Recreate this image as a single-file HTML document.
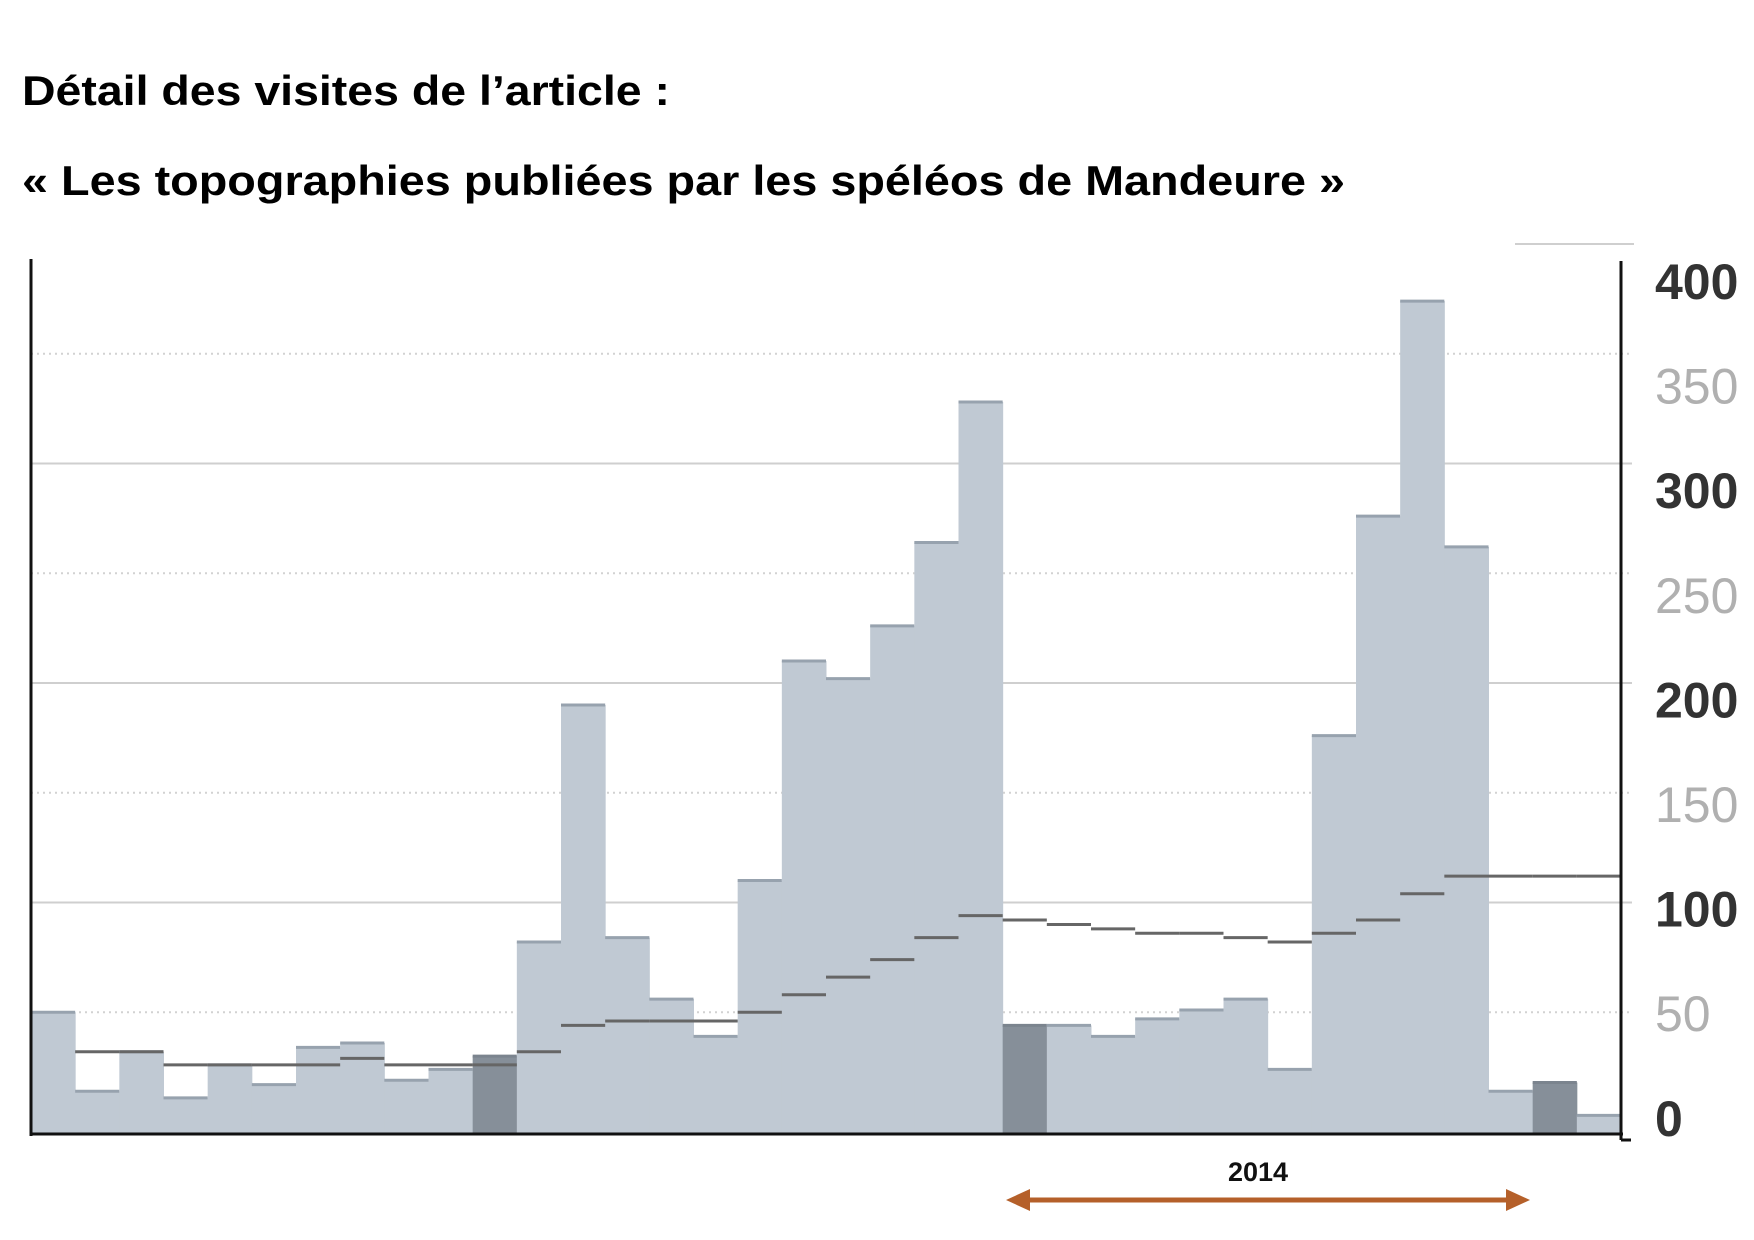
<!DOCTYPE html>
<html><head><meta charset="utf-8"><style>
html,body{margin:0;padding:0;background:#fff;}
svg{display:block;}
</style></head><body>
<svg id="chart" width="1754" height="1240" viewBox="0 0 1754 1240" xmlns="http://www.w3.org/2000/svg" font-family="Liberation Sans, Arial, sans-serif">
<rect width="1754" height="1240" fill="#fff"/>
<text x="22" y="105" font-size="42" font-weight="bold" fill="#000" textLength="648" lengthAdjust="spacingAndGlyphs">Détail des visites de l’article :</text>
<text x="22" y="195" font-size="42" font-weight="bold" fill="#000" textLength="1323" lengthAdjust="spacingAndGlyphs">« Les topographies publiées par les spéléos de Mandeure »</text>
<g id="grid"></g>
<g id="bars"></g>
<g id="avg"></g>
<g id="axes"></g>
<g id="ylabels"></g>
<text x="1258" y="1181" font-size="27" font-weight="bold" fill="#111" text-anchor="middle">2014</text>
<g>
<line x1="1020" y1="1200" x2="1516" y2="1200" stroke="#b5602a" stroke-width="5"/>
<polygon points="1006,1200 1030,1189 1030,1211" fill="#b5602a"/>
<polygon points="1530,1200 1506,1189 1506,1211" fill="#b5602a"/>
</g>
</svg>
<script>
const visits = [50,14,32,11,26,17,34,36,19,24,30,82,190,84,56,39,110,210,202,226,264,328,44,44,39,47,51,56,24,176,276,374,262,14,18,3];
const average = [null,32,32,26,26,26,26,29,26,26,26,32,44,46,46,46,50,58,66,74,84,94,92,90,88,86,86,84,82,86,92,104,112,112,112,112];
const highlighted = [10,22,34];
const tickValues = [400,350,300,250,200,150,100,50,0];
const tickLabels = ["400","350","300","250","200","150","100","50","0"];
const majorTicks = [400,300,200,100,0];

const NS = "http://www.w3.org/2000/svg";
const X0 = 31, X1 = 1621, BASE = 1134;
const bw = (X1 - X0) / visits.length;
function xPos(i){ return X0 + i * bw; }
function yPos(v){ return 1122 - v * 2.195; }
function labelY(v){ return 281 + (400 - v) / 50 * 104.6; }
function mk(tag, attrs, parent){
  const e = document.createElementNS(NS, tag);
  for (const k in attrs) e.setAttribute(k, attrs[k]);
  parent.appendChild(e); return e;
}
const grid = document.getElementById('grid');
tickValues.forEach(v => {
  if (v === 0) return;
  const y = yPos(v);
  let l;
  if (v === 400) l = mk('line', {x1:1515, x2:1634, y1:y, y2:y, stroke:'#cfcfcf', 'stroke-width':2}, grid);
  else if (v % 100 === 0) l = mk('line', {x1:X0, x2:1632, y1:y, y2:y, stroke:'#cfcfcf', 'stroke-width':2}, grid);
  else l = mk('line', {x1:X0, x2:1632, y1:y, y2:y, stroke:'#d2d2d2', 'stroke-width':2, 'stroke-dasharray':'2 4'}, grid);
  
  
});
const bars = document.getElementById('bars');
visits.forEach((v, i) => {
  const dark = highlighted.includes(i);
  const r = mk('rect', {x:xPos(i), y:yPos(v), width:bw+0.5, height:BASE - yPos(v), fill: dark ? '#868f99' : '#c0c9d3'}, bars);
  
  
  const t = mk('line', {x1:xPos(i), x2:xPos(i)+bw, y1:yPos(v), y2:yPos(v), stroke: dark ? '#7b848e' : '#97a2ae', 'stroke-width':3}, bars);
  
  
});
const avg = document.getElementById('avg');
average.forEach((v, i) => {
  if (v === null) return;
  const l = mk('line', {x1:xPos(i), x2:xPos(i)+bw, y1:yPos(v), y2:yPos(v), stroke:'#666', 'stroke-width':3}, avg);
  
  
});
const axes = document.getElementById('axes');
const la = mk('line', {x1:X0, x2:X0, y1:259, y2:1136, stroke:'#111', 'stroke-width':3}, axes);


const ba = mk('line', {x1:X0-1, x2:X1+2, y1:BASE, y2:BASE, stroke:'#111', 'stroke-width':3}, axes);


const ra = mk('line', {x1:X1, x2:X1, y1:261, y2:1140, stroke:'#111', 'stroke-width':3}, axes);


const tk = mk('line', {x1:X1, x2:X1+10, y1:1140, y2:1140, stroke:'#111', 'stroke-width':3}, axes);


const yl = document.getElementById('ylabels');
tickValues.forEach((v, i) => {
  const major = majorTicks.includes(v);
  const t = mk('text', {x:1655, y:labelY(v)+18, 'font-size':50, fill: major ? '#333' : '#b0b0b0', 'font-weight': major ? 'bold' : 'normal'}, yl);
  t.textContent = tickLabels[i];
  
  
});
</script>
</body></html>
